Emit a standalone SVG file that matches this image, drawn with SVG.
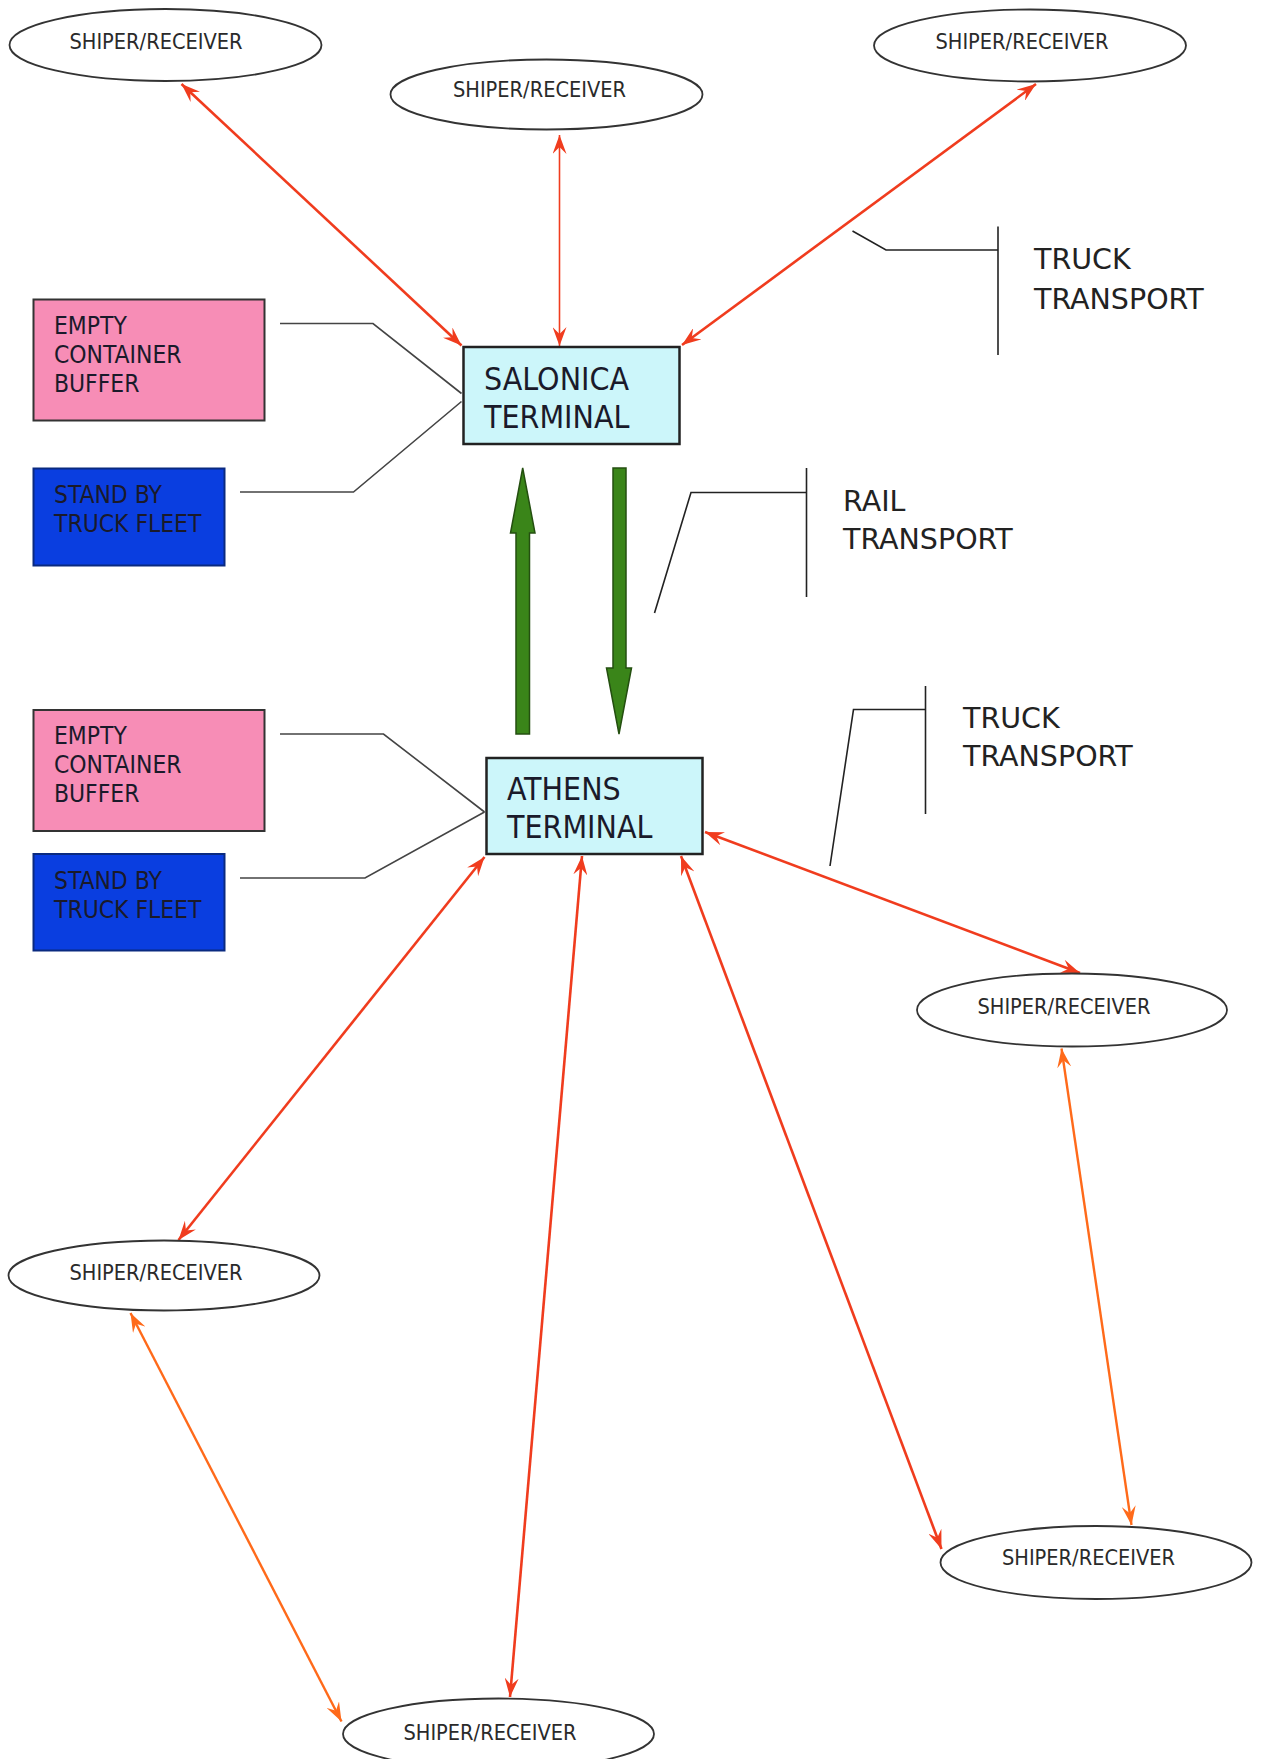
<svg xmlns="http://www.w3.org/2000/svg" width="1264" height="1759" viewBox="0 0 1264 1759">
<style>
.ell{fill:#ffffff;stroke:#333;stroke-width:1.8}
.et{font-family:"DejaVu Sans Condensed","DejaVu Sans",sans-serif;font-stretch:condensed;font-size:21.6px;fill:#2a2a2a}
.bt{font-family:"DejaVu Sans Condensed","DejaVu Sans",sans-serif;font-stretch:condensed;font-size:24.4px;fill:#1a1a2a}
.tt{font-family:"DejaVu Sans Condensed","DejaVu Sans",sans-serif;font-stretch:condensed;font-size:31.8px;fill:#1a1a2a}
.lt{font-family:"DejaVu Sans",sans-serif;font-size:28.5px;fill:#222}
.term{fill:#ccf6fa;stroke:#222;stroke-width:2.5}
.pink{fill:#f78db6;stroke:#333;stroke-width:2}
.blue{fill:#0a3ee0;stroke:#0a2a80;stroke-width:2}
.ln{fill:none;stroke:#444;stroke-width:1.6}
.br{fill:none;stroke:#222;stroke-width:1.6}
.ar{fill:none;stroke:#f03c1e;stroke-width:2.6;marker-start:url(#mr);marker-end:url(#mr)}
.ao{fill:none;stroke:#ff6a1a;stroke-width:2.4;marker-start:url(#mo);marker-end:url(#mo)}
.grn{fill:#3a8519;stroke:#244f10;stroke-width:1.5}
</style>
<defs>
<marker id="mr" viewBox="0 0 20 14" refX="19" refY="7" markerWidth="20" markerHeight="14" markerUnits="userSpaceOnUse" orient="auto-start-reverse">
<path d="M19,7 L0,0 L7,7 L0,14 Z" fill="#f03c1e"/>
</marker>
<marker id="mo" viewBox="0 0 20 14" refX="19" refY="7" markerWidth="20" markerHeight="14" markerUnits="userSpaceOnUse" orient="auto-start-reverse">
<path d="M19,7 L0,0 L7,7 L0,14 Z" fill="#ff6a1a"/>
</marker>
</defs>
<rect width="1264" height="1759" fill="#ffffff"/>

<g id="connectors">
<line class="ar" x1="181.5" y1="84" x2="461.5" y2="345.5"/>
<line class="ar" style="stroke-width:1.6" x1="559.5" y1="135" x2="559.5" y2="346"/>
<line class="ar" x1="1036" y1="84" x2="682" y2="345"/>
<line class="ar" x1="484.5" y1="857" x2="178.5" y2="1240"/>
<line class="ar" x1="582" y1="856" x2="510" y2="1697"/>
<line class="ar" x1="681" y1="856" x2="941.5" y2="1549"/>
<line class="ar" x1="705" y1="832" x2="1080" y2="973"/>
<line class="ao" x1="1061.5" y1="1048.5" x2="1131.5" y2="1525"/>
<line class="ao" x1="130.5" y1="1313" x2="341.5" y2="1721.5"/>
<polygon class="grn" points="516,734 516,533 510.5,533 522.7,468 535,533 529.5,533 529.5,734"/>
<polygon class="grn" points="613,468 626,468 626,668 631.5,668 619,734 606.5,668 613,668"/>
<polyline class="ln" points="280,323.5 373,323.5 461.5,393.5"/>
<polyline class="ln" points="240,492 353.5,492 461.5,401.5"/>
<polyline class="ln" points="280,734 383.5,734 484.5,812"/>
<polyline class="ln" points="240,878 365,878 484.5,812"/>
</g>

<g id="salonica">
<rect class="term" x="463.5" y="347" width="216" height="97"/>
<text class="tt" x="484" y="390">SALONICA</text>
<text class="tt" x="484" y="428">TERMINAL</text>
</g>
<g id="athens">
<rect class="term" x="486.5" y="758" width="216" height="96"/>
<text class="tt" x="507" y="800">ATHENS</text>
<text class="tt" x="507" y="838">TERMINAL</text>
</g>

<g id="buffer-top">
<rect class="pink" x="33.5" y="299.5" width="231" height="121"/>
<text class="bt" x="54" y="333.5">EMPTY</text>
<text class="bt" x="54" y="362.5">CONTAINER</text>
<text class="bt" x="54" y="391.5">BUFFER</text>
</g>
<g id="fleet-top">
<rect class="blue" x="33.5" y="468.5" width="191" height="97"/>
<text class="bt" x="54" y="502.5">STAND BY</text>
<text class="bt" x="54" y="531.5">TRUCK FLEET</text>
</g>
<g id="buffer-bottom">
<rect class="pink" x="33.5" y="710" width="231" height="121"/>
<text class="bt" x="54" y="744">EMPTY</text>
<text class="bt" x="54" y="773">CONTAINER</text>
<text class="bt" x="54" y="802">BUFFER</text>
</g>
<g id="fleet-bottom">
<rect class="blue" x="33.5" y="854" width="191" height="96.5"/>
<text class="bt" x="54" y="889">STAND BY</text>
<text class="bt" x="54" y="917.5">TRUCK FLEET</text>
</g>

<g id="truck-transport-top">
<polyline class="br" points="852.5,231 886,250 998,250"/>
<line class="br" x1="998" y1="226.5" x2="998" y2="355"/>
<text class="lt" x="1034" y="268.5">TRUCK</text>
<text class="lt" x="1034" y="308.5">TRANSPORT</text>
</g>
<g id="rail-transport">
<polyline class="br" points="654.5,613 691,492.5 806.5,492.5"/>
<line class="br" x1="806.5" y1="468" x2="806.5" y2="597"/>
<text class="lt" x="843" y="510.5">RAIL</text>
<text class="lt" x="843" y="549">TRANSPORT</text>
</g>
<g id="truck-transport-bottom">
<polyline class="br" points="830,866 853.5,709.5 925.5,709.5"/>
<line class="br" x1="925.5" y1="686" x2="925.5" y2="814"/>
<text class="lt" x="963" y="727.5">TRUCK</text>
<text class="lt" x="963" y="765.5">TRANSPORT</text>
</g>

<g id="sr-top-left">
<ellipse class="ell" cx="165.5" cy="45" rx="156" ry="36"/>
<text class="et" x="156" y="48.5" text-anchor="middle">SHIPER/RECEIVER</text>
</g>
<g id="sr-top-middle">
<ellipse class="ell" cx="546.5" cy="94.5" rx="156" ry="35"/>
<text class="et" x="539.5" y="97" text-anchor="middle">SHIPER/RECEIVER</text>
</g>
<g id="sr-top-right">
<ellipse class="ell" cx="1030" cy="45.5" rx="156" ry="36"/>
<text class="et" x="1022" y="49" text-anchor="middle">SHIPER/RECEIVER</text>
</g>
<g id="sr-right">
<ellipse class="ell" cx="1072" cy="1010" rx="155" ry="36.5"/>
<text class="et" x="1064" y="1013.5" text-anchor="middle">SHIPER/RECEIVER</text>
</g>
<g id="sr-left">
<ellipse class="ell" cx="164" cy="1275.5" rx="155.5" ry="35"/>
<text class="et" x="156" y="1279.5" text-anchor="middle">SHIPER/RECEIVER</text>
</g>
<g id="sr-bottom-right">
<ellipse class="ell" cx="1096" cy="1562.5" rx="155.5" ry="36.5"/>
<text class="et" x="1088.5" y="1565" text-anchor="middle">SHIPER/RECEIVER</text>
</g>
<g id="sr-bottom">
<ellipse class="ell" cx="498.5" cy="1734" rx="155.5" ry="35.5"/>
<text class="et" x="490" y="1740" text-anchor="middle">SHIPER/RECEIVER</text>
</g>
</svg>
